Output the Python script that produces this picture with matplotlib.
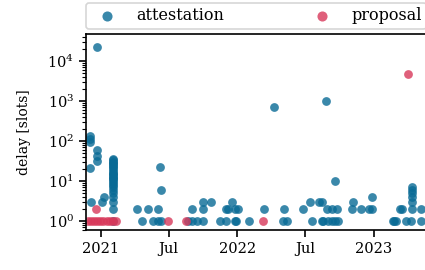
import matplotlib
matplotlib.use("Agg")
import matplotlib.pyplot as plt
import numpy as np
import pandas as pd

# attestation delays: (date, value)
att_dates = (
    ["2020-12-03"] * 4 + ["2020-12-06"] + ["2020-12-22"] * 4
    + ["2021-01-03", "2021-01-10"]
    + ["2021-02-03"] * 25
    + ["2021-04-07", "2021-04-20", "2021-05-08", "2021-05-21", "2021-06-03",
       "2021-06-02", "2021-06-08", "2021-06-11", "2021-06-12",
       "2021-08-23", "2021-09-01", "2021-09-02", "2021-09-14",
       "2021-09-30", "2021-09-30", "2021-09-30", "2021-10-22",
       "2021-11-16", "2021-12-03", "2021-12-01", "2021-12-07",
       "2021-12-19", "2021-12-26", "2021-12-26", "2021-12-28", "2022-01-04",
       "2022-02-02", "2022-03-13", "2022-04-09", "2022-05-04", "2022-05-07",
       "2022-05-15", "2022-06-27", "2022-07-16", "2022-07-21", "2022-08-08",
       "2022-08-15", "2022-08-15", "2022-08-19", "2022-08-26", "2022-08-28",
       "2022-09-02", "2022-09-11", "2022-09-11", "2022-09-19", "2022-09-19",
       "2022-09-24", "2022-09-28", "2022-11-03", "2022-11-07", "2022-11-27",
       "2022-12-20", "2022-12-27", "2022-12-27",
       "2023-02-22", "2023-02-25", "2023-03-03", "2023-03-12", "2023-03-19",
       "2023-03-28", "2023-04-12"]
    + ["2023-04-14"] * 6
    + ["2023-05-09", "2023-05-09"]
)
att_values = (
    [130, 110, 95, 21, 3, 60, 43, 31, 22000]
    + [3, 4]
    + [1, 2, 3, 4, 5, 6, 7, 8, 9, 10, 11, 12, 13, 14, 15, 16, 18, 20, 22,
       24, 26, 28, 30, 33, 36]
    + [2, 1, 2, 1, 2,
       1, 23, 6, 1,
       1, 1, 2, 1,
       1, 2, 3, 3,
       1, 1, 2, 2,
       3, 1, 2, 1, 2,
       1, 2, 700, 1, 2,
       1, 2, 3, 1, 3,
       3, 1, 1, 1000, 2,
       1, 1, 2, 10, 1,
       2, 1, 2, 3, 2,
       2, 2, 4,
       1, 1, 1, 2, 2,
       1, 1]
    + [2, 3, 4, 5, 6, 7]
    + [1, 2]
)

# proposal delays
prop_dates = ["2020-11-27", "2020-12-05", "2020-12-13", "2020-12-21",
              "2020-12-29", "2021-01-06", "2021-01-17", "2021-01-25",
              "2021-02-02", "2021-02-10", "2020-12-20",
              "2021-06-30", "2021-08-16", "2022-03-10", "2023-04-04"]
prop_values = [1, 1, 1, 1, 1, 1, 1, 1, 1, 1, 2, 1, 1, 1, 4600]

x_ticks = ["2021-01-01", "2021-07-01", "2022-01-01", "2022-07-01", "2023-01-01"]
x_tick_labels = ["2021", "Jul", "2022", "Jul", "2023"]

plt.rcParams["font.family"] = ["DejaVu Serif"]
plt.rcParams["font.size"] = 10.5

fig = plt.figure(figsize=(4.25, 2.7), dpi=100)
ax = fig.add_axes([86 / 425, 1 - 230 / 270, 344 / 425, 196 / 270])

blue = "#096a95"
red = "#d8385a"
ax.scatter(pd.to_datetime(att_dates), att_values, s=40, color=blue, alpha=0.8,
           linewidths=0, label="attestation")
ax.scatter(pd.to_datetime(prop_dates), prop_values, s=40, color=red, alpha=0.8,
           linewidths=0, label="proposal")

ax.set_yscale("log")
ax.set_ylim(0.6, 47000)
ax.set_xlim(pd.Timestamp("2020-11-22"), pd.Timestamp("2023-06-01"))
ax.set_xticks(pd.to_datetime(x_ticks))
ax.set_xticklabels(x_tick_labels)
ax.xaxis.set_minor_locator(matplotlib.ticker.NullLocator())
ax.set_ylabel("delay [slots]", labelpad=12, fontsize=10)

for s in ["top", "left", "bottom", "right"]:
    ax.spines[s].set_linewidth(1.2)
ax.tick_params(which="major", length=5, width=1.2)
ax.tick_params(which="minor", length=3, width=0.8)

leg = ax.legend(loc="lower left", bbox_to_anchor=(0, 1.025, 0.99, 0.1),
                mode="expand", ncol=2, frameon=True, borderaxespad=0,
                handletextpad=0.85, borderpad=0.3, fontsize=11.5,
                markerscale=1.15)
leg.get_frame().set_edgecolor("#cccccc")
leg.get_frame().set_linewidth(1.2)

fig.savefig("out.png", dpi=100)
